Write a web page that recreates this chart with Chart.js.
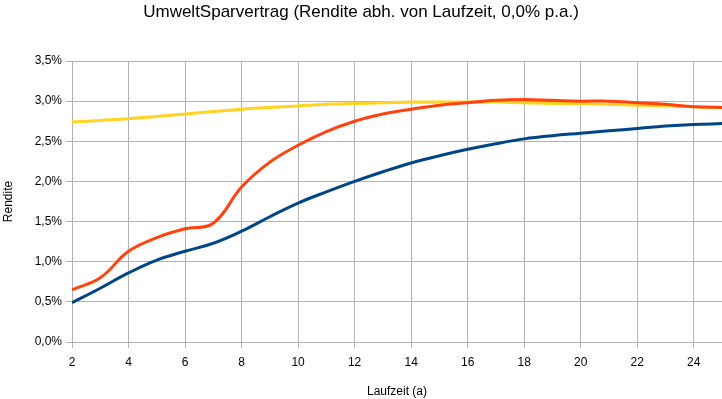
<!DOCTYPE html>
<html>
<head>
<meta charset="utf-8">
<script src="https://cdn.jsdelivr.net/npm/chart.js@4/dist/chart.umd.min.js"></script>
<style>
  html, body { margin: 0; padding: 0; background: #fff; }
  #wrap { width: 722px; height: 399px; }
</style>
</head>
<body>
<div id="wrap"><canvas id="chart"></canvas></div>
<script>
// Laufzeit in Jahren
var years = [2, 3, 4, 5, 6, 7, 8, 9, 10, 11, 12, 13, 14, 15, 16, 17, 18, 19, 20, 21, 22, 23, 24, 25];
// Rendite in %
var blueValues = [0.49, 0.67, 0.86, 1.02, 1.13, 1.23, 1.38, 1.56, 1.73, 1.87, 2.00, 2.12, 2.23, 2.32, 2.40, 2.47, 2.53, 2.57, 2.60, 2.63, 2.66, 2.69, 2.71, 2.72];
var orangeValues = [0.65, 0.80, 1.13, 1.30, 1.41, 1.48, 1.93, 2.24, 2.45, 2.62, 2.75, 2.84, 2.90, 2.95, 2.98, 3.01, 3.02, 3.01, 3.00, 3.00, 2.98, 2.96, 2.93, 2.92];
var yellowValues = [2.74, 2.76, 2.78, 2.81, 2.84, 2.87, 2.90, 2.92, 2.94, 2.96, 2.97, 2.98, 2.99, 2.99, 2.99, 2.99, 2.98, 2.97, 2.97, 2.96, 2.95, 2.94, 2.93, 2.92];
var xTicks = [2, 4, 6, 8, 10, 12, 14, 16, 18, 20, 22, 24, 25];
var yTicks = [0, 0.5, 1, 1.5, 2, 2.5, 3, 3.5];

function pts(vals) {
    return vals.map(function (v, i) { return { x: years[i], y: v }; });
}

var gridColor = '#b3b3b3';
var ctx = document.getElementById('chart').getContext('2d');
new Chart(ctx, {
    type: 'line',
    data: {
        datasets: [
            { data: pts(blueValues), borderColor: '#004586' },
            { data: pts(orangeValues), borderColor: '#ff420e' },
            { data: pts(yellowValues), borderColor: '#ffd320' }
        ]
    },
    options: {
        responsive: true,
        maintainAspectRatio: false,
        animation: false,
        layout: { padding: 0 },
        elements: {
            point: { radius: 0 },
            line: { borderWidth: 3, tension: 0.4, fill: false }
        },
        plugins: {
            legend: { display: false },
            tooltip: { enabled: false },
            title: {
                display: true,
                text: 'UmweltSparvertrag (Rendite abh. von Laufzeit, 0,0% p.a.)',
                color: '#000',
                font: { family: 'Liberation Sans', size: 17, weight: 'normal' },
                padding: { top: 2, bottom: 38.6 }
            }
        },
        scales: {
            x: {
                type: 'linear',
                min: 2,
                max: 25,
                afterBuildTicks: function (scale) {
                    scale.ticks = xTicks.map(function (v) { return { value: v }; });
                },
                afterFit: function (scale) {
                    scale.height = 57;
                    scale.paddingRight = 0;
                    scale.paddingLeft = 0;
                },
                grid: { color: gridColor, tickLength: 6, tickColor: gridColor },
                border: { color: gridColor },
                ticks: {
                    autoSkip: false,
                    maxRotation: 0,
                    padding: 7,
                    color: '#000',
                    font: { family: 'Liberation Sans', size: 12 },
                    callback: function (v) { return v === 25 ? '' : String(v); }
                },
                title: {
                    display: true,
                    text: 'Laufzeit (a)',
                    color: '#000',
                    font: { family: 'Liberation Sans', size: 12 },
                    padding: { top: 0, bottom: 0 }
                }
            },
            y: {
                min: 0,
                max: 3.5,
                afterBuildTicks: function (scale) {
                    scale.ticks = yTicks.map(function (v) { return { value: v }; });
                },
                afterFit: function (scale) { scale.width = 72; },
                grid: { color: gridColor, tickLength: 6, tickColor: gridColor },
                border: { color: gridColor },
                ticks: {
                    padding: 4,
                    color: '#000',
                    font: { family: 'Liberation Sans', size: 12 },
                    callback: function (v) { return v.toFixed(1).replace('.', ',') + '%'; }
                },
                title: {
                    display: true,
                    text: 'Rendite',
                    color: '#000',
                    font: { family: 'Liberation Sans', size: 12 },
                    padding: { top: 1, bottom: 0 }
                }
            }
        }
    }
});
</script>
</body>
</html>
